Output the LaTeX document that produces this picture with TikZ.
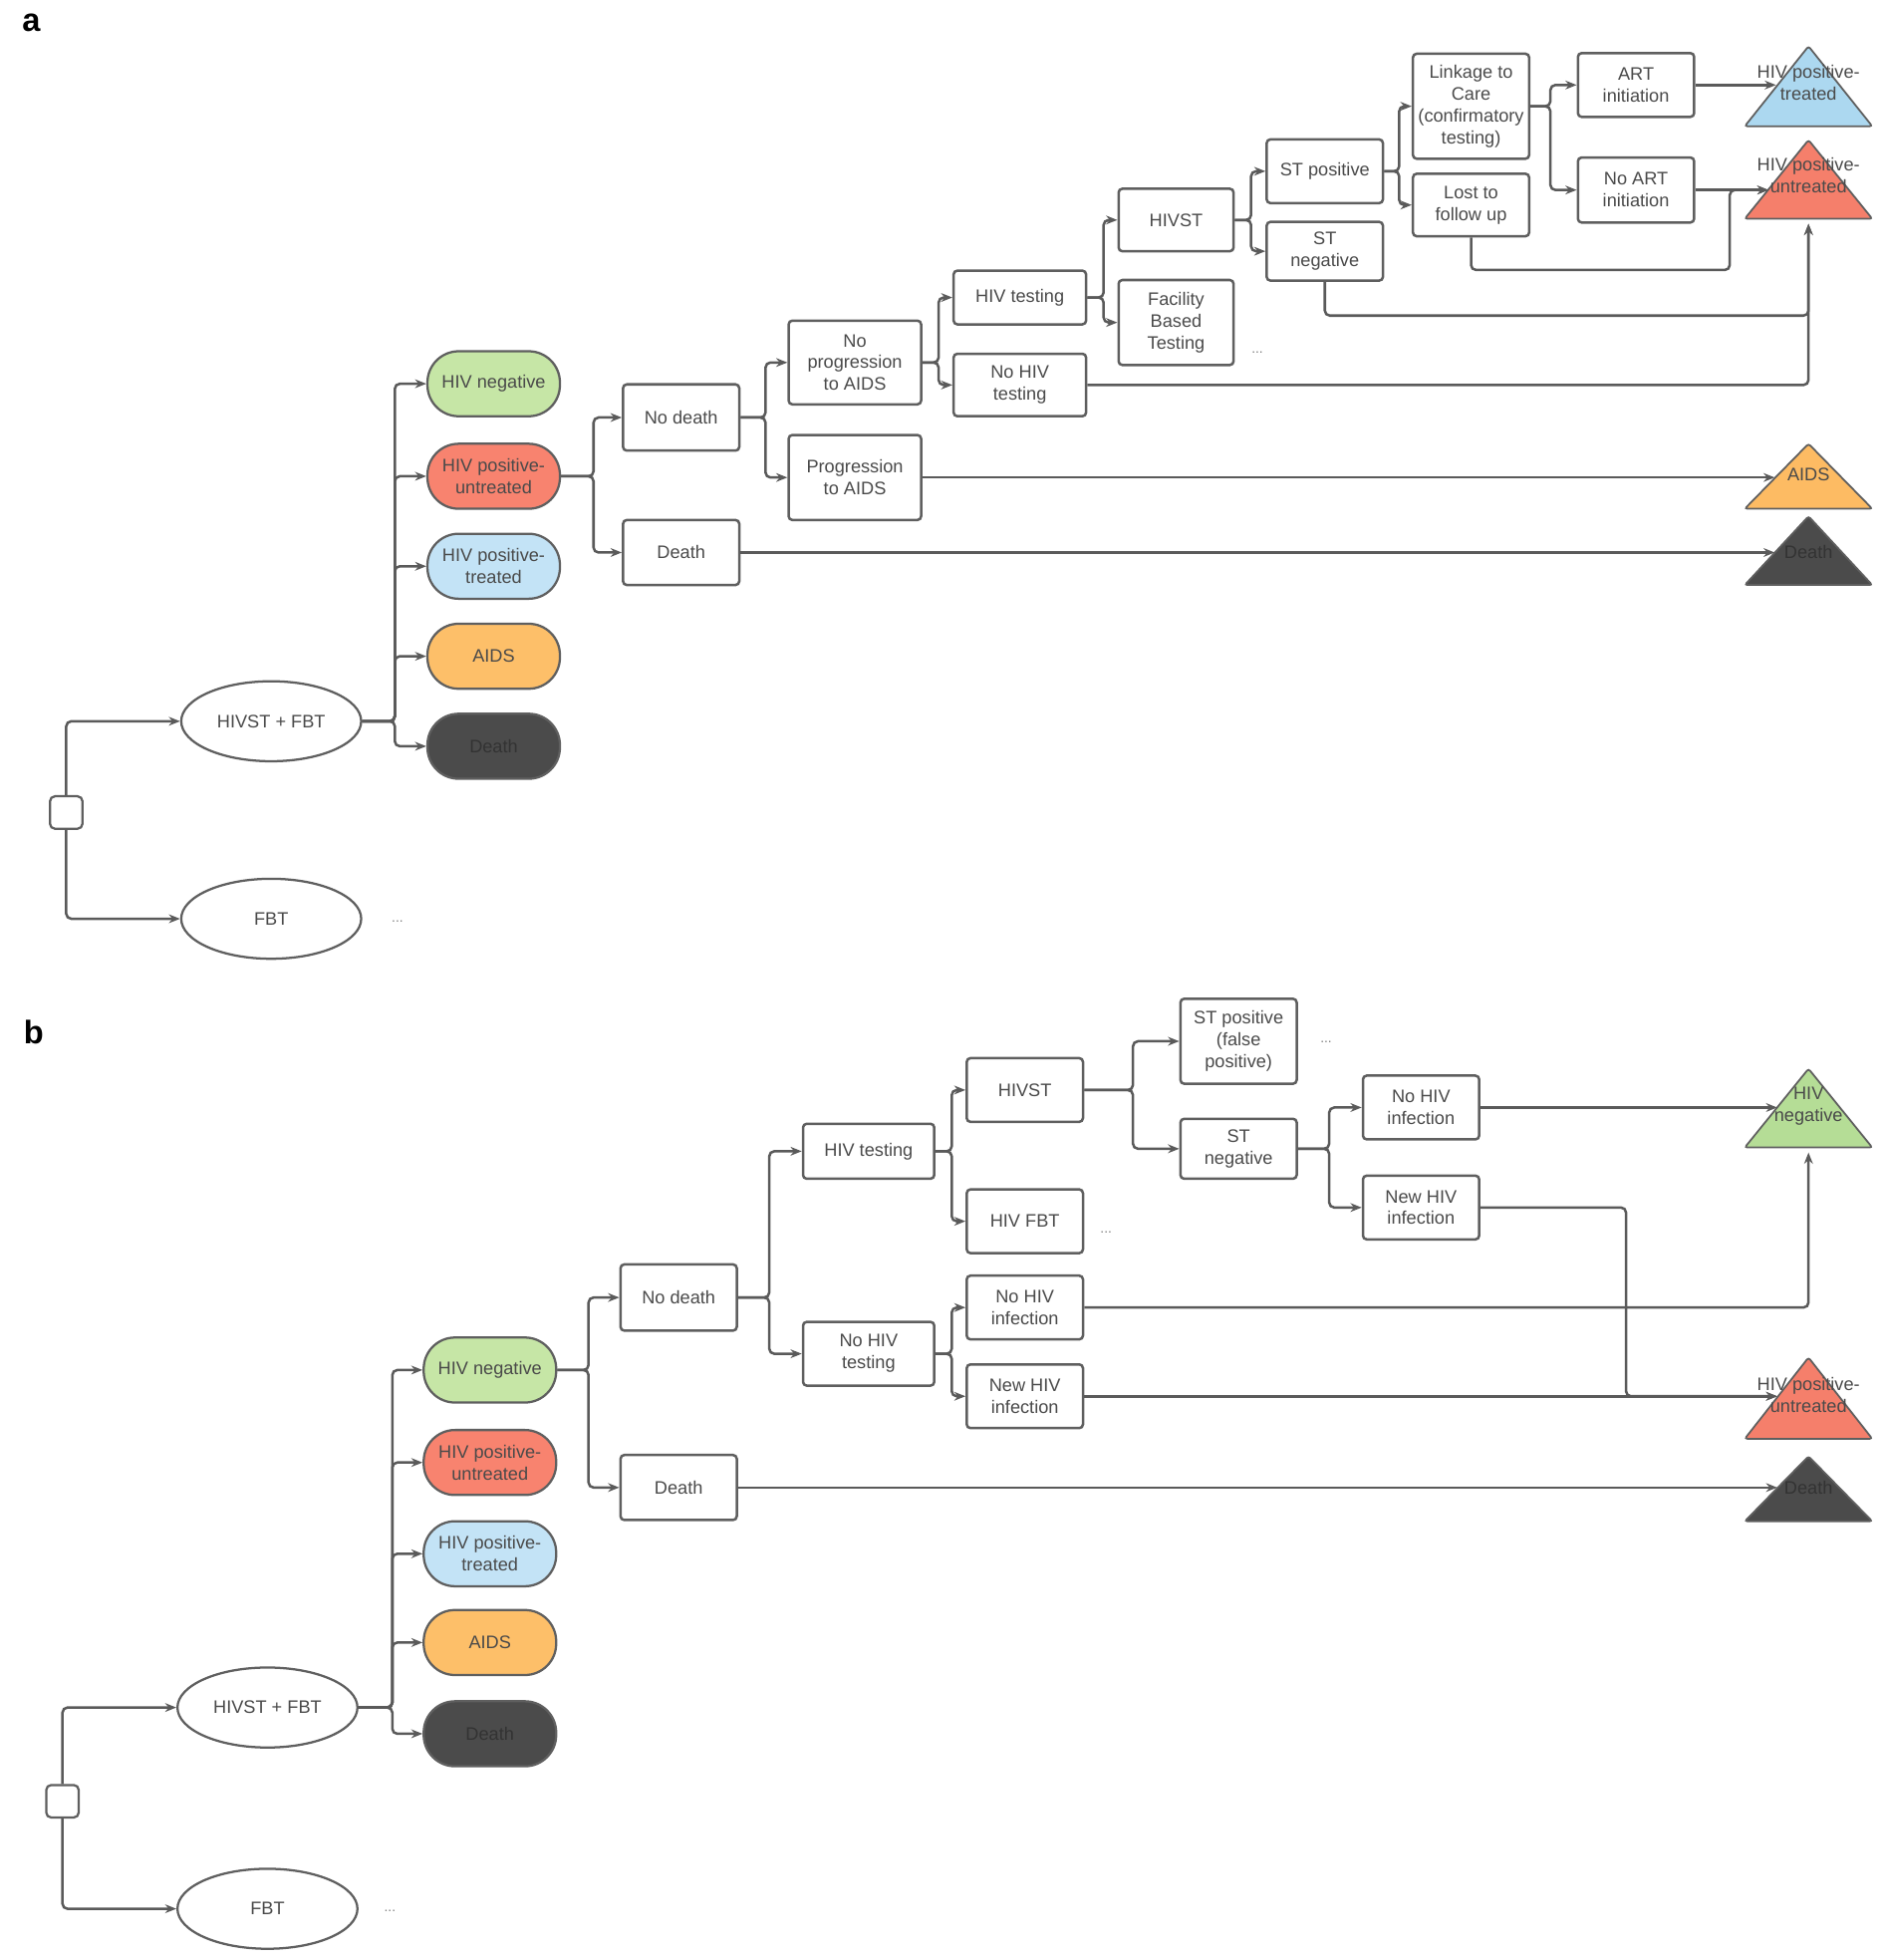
\documentclass[tikz,border=0pt]{standalone}
\usepackage{fontspec}
\setmainfont{Liberation Sans}
\usetikzlibrary{shapes.geometric,arrows.meta}
\definecolor{bordergray}{HTML}{5F5F5F}
\definecolor{linegray}{HTML}{5A5A5A}
\definecolor{txtgray}{HTML}{4A4A4A}
\definecolor{pgreen}{HTML}{C6E6A6}
\definecolor{pred}{HTML}{F8836F}
\definecolor{pblue}{HTML}{C3E3F6}
\definecolor{porange}{HTML}{FDBF69}
\definecolor{pdark}{HTML}{4B4B4B}
\definecolor{tblue}{HTML}{ACD8F0}
\definecolor{tgreen}{HTML}{B5DD96}
\definecolor{tred}{HTML}{F57F6B}
\definecolor{torange}{HTML}{FDBB63}
\begin{document}
\begin{tikzpicture}[x=1pt,y=-1pt,
  txt/.style={font=\fontsize{14.5}{17.5}\selectfont, text=txtgray, align=center},
  bx/.style 2 args={txt, draw=bordergray, line width=2pt, rounded corners=3pt, fill=white, inner sep=0pt, minimum width=#1pt, minimum height=#2pt},
  pill/.style={txt, draw=bordergray, line width=1.8pt, rounded corners=25pt, minimum width=106pt, minimum height=52pt, inner sep=0pt, fill=#1},
  ell/.style={txt, ellipse, draw=bordergray, line width=1.8pt, minimum width=144pt, minimum height=64pt, inner sep=0pt, fill=white},
  dec/.style={draw=bordergray, line width=1.8pt, rounded corners=4pt, minimum size=26pt, inner sep=0pt, fill=white},
  dots/.style={font=\fontsize{11}{12}\selectfont, text=gray},
  conn/.style={draw=linegray, line width=2pt, rounded corners=4pt},
  arr/.style={conn, -{Stealth[length=9pt,width=7pt]}},
  tri/.style={draw=bordergray, line width=1.4pt, rounded corners=2pt},
  plabel/.style={font=\fontsize{26}{28}\selectfont\bfseries, text=black}
]
\useasboundingbox (0,0) rectangle (1507,1568);

% ================= panel a =================
\node[plabel] (la) at (25,18) {a};
\node[dec] (aDec) at (53,650) {};
\node[ell] (aHF) at (217,577) {HIVST + FBT};
\node[ell] (aFBT) at (217,735) {FBT};
\node[dots] (aDots1) at (318,737) {...};

\node[pill=pgreen] (aNeg) at (395,307) {HIV negative};
\node[pill=pred] (aPU) at (395,381) {HIV positive-\\untreated};
\node[pill=pblue] (aPT) at (395,453) {HIV positive-\\treated};
\node[pill=porange] (aAIDS) at (395,525) {AIDS};
\node[pill=pdark, text=black!80] (aDeath) at (395,597) {Death};

\node[bx={93}{53}] (aND) at (545,334) {No death};
\node[bx={93}{52}] (aD) at (545,442) {Death};
\node[bx={106}{67}] (aNP) at (684,290) {No\\progression\\to AIDS};
\node[bx={106}{68}] (aP) at (684,382) {Progression\\to AIDS};
\node[bx={106}{43}] (aT) at (816,238) {HIV testing};
\node[bx={106}{50}] (aNT) at (816,308) {No HIV\\testing};
\node[bx={92}{50}] (aST) at (941,176) {HIVST};
\node[bx={92}{68}] (aFB) at (941,258) {Facility\\Based\\Testing};
\node[dots] (aDots2) at (1006,282) {...};
\node[bx={93}{51}] (aSP) at (1060,137) {ST positive};
\node[bx={93}{47}] (aSN) at (1060,201) {ST\\negative};
\node[bx={93}{84}] (aLK) at (1177,85) {Linkage to\\Care\\(confirmatory\\testing)};
\node[bx={93}{50}] (aLF) at (1177,164) {Lost to\\follow up};
\node[bx={93}{51}] (aART) at (1309,68) {ART\\initiation};
\node[bx={93}{52}] (aNART) at (1309,152) {No ART\\initiation};

% triangles a
\draw[tri, fill=tblue] (1447,37) -- (1498,101) -- (1396,101) -- cycle;
\draw[tri, fill=tred] (1447,112) -- (1498,175) -- (1396,175) -- cycle;
\draw[tri, fill=torange] (1447,355) -- (1498,407) -- (1396,407) -- cycle;
\draw[tri, fill=pdark] (1447,413) -- (1498,468) -- (1396,468) -- cycle;
\node[txt] (aTBl) at (1447,66) {HIV positive-\\treated};
\node[txt] (aTRl) at (1447,140) {HIV positive-\\untreated};
\node[txt] (aTAl) at (1447,380) {AIDS};
\node[txt, text=black!80] (aTDl) at (1447,442) {Death};
\coordinate (aTBin) at (1421,68);
\coordinate (aTRin) at (1415,152);
\coordinate (aTRbot) at (1447,179);
\coordinate (aTAin) at (1420,382);
\coordinate (aTDin) at (1420,442);
\coordinate (aJ) at (1384,152);

% connectors a
\draw[arr] (aDec.north) |- (aHF.west);
\draw[arr] (aDec.south) |- (aFBT.west);
\foreach \t in {aNeg,aPU,aPT,aAIDS,aDeath}
  \draw[arr] (aHF.east) -- ++(26,0) |- (\t.west);
\foreach \t in {aND,aD}
  \draw[arr] (aPU.east) -- ++(26,0) |- (\t.west);
\foreach \t in {aNP,aP}
  \draw[arr] (aND.east) -- ++(20,0) |- (\t.west);
\foreach \t in {aT,aNT}
  \draw[arr] (aNP.east) -- ++(13,0) |- (\t.west);
\foreach \t in {aST,aFB}
  \draw[arr] (aT.east) -- ++(13,0) |- (\t.west);
\foreach \t in {aSP,aSN}
  \draw[arr] (aST.east) -- ++(13,0) |- (\t.west);
\foreach \t in {aLK,aLF}
  \draw[arr] (aSP.east) -- ++(12,0) |- (\t.west);
\foreach \t in {aART,aNART}
  \draw[arr] (aLK.east) -- ++(16,0) |- (\t.west);
\draw[arr] (aART.east) -- (aTBin);
\draw[arr] (aNART.east) -- (aTRin);
\draw[arr] (aLF.south) -- ++(0,26) -| (aJ) -- (aTRin);
\draw[arr] (aSN.south) -- ++(0,27) -| (aTRbot);
\draw[arr] (aNT.east) -| (aTRbot);
\draw[arr] (aP.east) -- (aTAin);
\draw[arr] (aD.east) -- (aTDin);

% ================= panel b =================
\node[plabel] (lb) at (27,826) {b};
\node[dec] (bDec) at (50,1441) {};
\node[ell] (bHF) at (214,1366) {HIVST + FBT};
\node[ell] (bFBT) at (214,1527) {FBT};
\node[dots] (bDots1) at (312,1529) {...};

\node[pill=pgreen] (bNeg) at (392,1096) {HIV negative};
\node[pill=pred] (bPU) at (392,1170) {HIV positive-\\untreated};
\node[pill=pblue] (bPT) at (392,1243) {HIV positive-\\treated};
\node[pill=porange] (bAIDS) at (392,1314) {AIDS};
\node[pill=pdark, text=black!80] (bDeath) at (392,1387) {Death};

\node[bx={93}{53}] (bND) at (543,1038) {No death};
\node[bx={93}{52}] (bD) at (543,1190) {Death};
\node[bx={105}{44}] (bT) at (695,921) {HIV testing};
\node[bx={105}{51}] (bNT) at (695,1083) {No HIV\\testing};
\node[bx={93}{51}] (bST) at (820,872) {HIVST};
\node[bx={93}{51}] (bFB) at (820,977) {HIV FBT};
\node[dots] (bDots2) at (885,986) {...};
\node[bx={93}{51}] (bNI) at (820,1046) {No HIV\\infection};
\node[bx={93}{51}] (bNewI) at (820,1117) {New HIV\\infection};
\node[bx={93}{68}] (bSP) at (991,833) {ST positive\\(false\\positive)};
\node[dots] (bDots3) at (1061,834) {...};
\node[bx={93}{48}] (bSN) at (991,919) {ST\\negative};
\node[bx={93}{51}] (bNI2) at (1137,886) {No HIV\\infection};
\node[bx={93}{51}] (bNewI2) at (1137,966) {New HIV\\infection};

% triangles b
\draw[tri, fill=tgreen] (1447,855) -- (1498,918) -- (1396,918) -- cycle;
\draw[tri, fill=tred] (1447,1086) -- (1498,1151) -- (1396,1151) -- cycle;
\draw[tri, fill=pdark] (1447,1165) -- (1498,1217) -- (1396,1217) -- cycle;
\node[txt] (bTGl) at (1447,885) {HIV\\negative};
\node[txt] (bTRl) at (1447,1116) {HIV positive-\\untreated};
\node[txt, text=black!80] (bTDl) at (1447,1190) {Death};
\coordinate (bTGin) at (1422,886);
\coordinate (bTGbot) at (1447,922);
\coordinate (bTRin) at (1422,1117);
\coordinate (bTDin) at (1422,1190);
\coordinate (bJ) at (1301,1117);

% connectors b
\draw[arr] (bDec.north) |- (bHF.west);
\draw[arr] (bDec.south) |- (bFBT.west);
\foreach \t in {bNeg,bPU,bPT,bAIDS,bDeath}
  \draw[arr] (bHF.east) -- ++(27,0) |- (\t.west);
\foreach \t in {bND,bD}
  \draw[arr] (bNeg.east) -- ++(25,0) |- (\t.west);
\foreach \t in {bT,bNT}
  \draw[arr] (bND.east) -- ++(25,0) |- (\t.west);
\foreach \t in {bST,bFB}
  \draw[arr] (bT.east) -- ++(13,0) |- (\t.west);
\foreach \t in {bNI,bNewI}
  \draw[arr] (bNT.east) -- ++(13,0) |- (\t.west);
\foreach \t in {bSP,bSN}
  \draw[arr] (bST.east) -- ++(39,0) |- (\t.west);
\foreach \t in {bNI2,bNewI2}
  \draw[arr] (bSN.east) -- ++(25,0) |- (\t.west);
\draw[arr] (bNI2.east) -- (bTGin);
\draw[arr] (bNI.east) -| (bTGbot);
\draw[arr] (bNewI2.east) -| (bJ) -- (bTRin);
\draw[arr] (bNewI.east) -- (bTRin);
\draw[arr] (bD.east) -- (bTDin);
\end{tikzpicture}
\end{document}
